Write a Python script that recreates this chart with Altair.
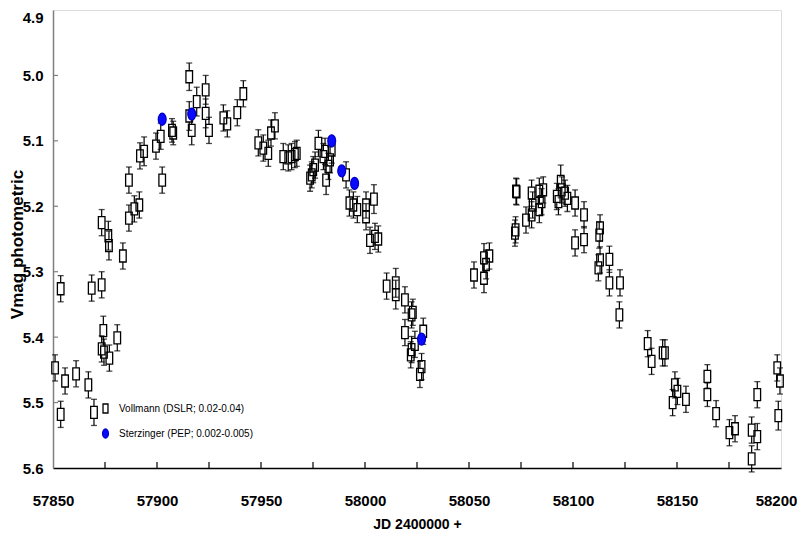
import altair as alt
import pandas as pd

# ---- data ----
vol_jd = [57851.0, 57853.7, 57853.7, 57855.8, 57861.1, 57867.0, 57868.6, 57869.7,
          57873.4, 57873.4, 57873.4, 57874.2, 57874.5, 57876.6, 57876.9, 57877.1,
          57880.9, 57883.6, 57886.5, 57886.5, 57889.1, 57891.5, 57891.8, 57893.8,
          57899.5, 57901.8, 57902.5, 57907.2, 57907.8, 57915.5, 57915.5, 57916.7,
          57919.1, 57923.4, 57923.4, 57925.0, 57931.9, 57933.8, 57938.6, 57941.5,
          57948.7, 57951.1, 57953.5, 57954.8, 57956.7, 57960.7, 57963.1, 57964.7,
          57966.3, 57967.2, 57973.6, 57974.4, 57975.1, 57976.0, 57977.6, 57980.0,
          57980.8, 57981.3, 57982.4, 57983.2, 57984.0, 57990.9, 57992.5, 57994.4,
          57996.3, 58000.5, 58000.5, 58004.3, 58002.4, 58004.8, 58006.4, 58010.4,
          58014.8, 58014.8, 58019.2, 58022.4, 58023.0, 58019.2, 58022.4, 58022.0,
          58024.0, 58028.0, 58027.2, 58026.4,
          58052.4, 58057.2, 58057.2, 58058.2, 58059.8, 58072.6, 58072.9, 58072.1,
          58072.4, 58077.4, 58080.1, 58080.1, 58080.6, 58083.8, 58084.9, 58083.8,
          58085.7, 58092.2, 58093.0, 58094.1, 58094.6, 58096.2, 58097.3, 58101.0,
          58101.0, 58105.3, 58105.3, 58112.6, 58113.0, 58112.2, 58113.0, 58117.5,
          58117.5, 58122.6, 58122.3, 58135.9, 58137.8, 58143.1, 58144.2, 58149.0,
          58150.2, 58147.9, 58154.3, 58164.6, 58164.6, 58168.8, 58175.2, 58177.9,
          58185.9, 58188.6, 58185.9, 58188.6, 58198.2, 58199.5, 58198.7]
vol_mag = [5.447, 5.326, 5.518, 5.467, 5.456, 5.473, 5.325, 5.515,
           5.320, 5.418, 5.225, 5.390, 5.423, 5.245, 5.260, 5.432,
           5.401, 5.276, 5.160, 5.218, 5.204, 5.198, 5.123, 5.116,
           5.108, 5.093, 5.160, 5.084, 5.088, 5.002, 5.062, 5.084,
           5.040, 5.022, 5.058, 5.084, 5.065, 5.074, 5.057, 5.028,
           5.103, 5.111, 5.119, 5.088, 5.077, 5.124, 5.126, 5.124,
           5.121, 5.119, 5.157, 5.152, 5.144, 5.137, 5.104, 5.124,
           5.116, 5.160, 5.139, 5.129, 5.114, 5.152, 5.195, 5.198,
           5.205, 5.198, 5.216, 5.189, 5.252, 5.246, 5.250, 5.322,
           5.317, 5.335, 5.343, 5.366, 5.362, 5.393, 5.419, 5.427,
           5.411, 5.391, 5.445, 5.457,
           5.305, 5.310, 5.279, 5.289, 5.276, 5.177, 5.178, 5.241,
           5.236, 5.221, 5.180, 5.213, 5.198, 5.177, 5.193, 5.205,
           5.175, 5.185, 5.193, 5.162, 5.175, 5.180, 5.188, 5.195,
           5.256, 5.213, 5.251, 5.244, 5.233, 5.294, 5.282, 5.281,
           5.317, 5.317, 5.366, 5.410, 5.437, 5.424, 5.424, 5.473,
           5.483, 5.500, 5.495, 5.460, 5.488, 5.517, 5.546, 5.540,
           5.542, 5.552, 5.586, 5.488, 5.447, 5.467, 5.520]
vol_err = [0.020, 0.020, 0.020, 0.020, 0.020, 0.020, 0.020, 0.020,
           0.020, 0.020, 0.020, 0.022, 0.020, 0.022, 0.022, 0.020,
           0.020, 0.020, 0.020, 0.020, 0.020, 0.020, 0.020, 0.022,
           0.020, 0.020, 0.020, 0.018, 0.018, 0.021, 0.022, 0.022,
           0.022, 0.022, 0.022, 0.020, 0.020, 0.020, 0.020, 0.020,
           0.020, 0.020, 0.020, 0.020, 0.020, 0.020, 0.020, 0.020,
           0.020, 0.020, 0.020, 0.020, 0.020, 0.020, 0.020, 0.020,
           0.020, 0.022, 0.020, 0.020, 0.020, 0.020, 0.020, 0.020,
           0.020, 0.020, 0.020, 0.022, 0.020, 0.020, 0.020, 0.020,
           0.022, 0.022, 0.020, 0.020, 0.020, 0.020, 0.020, 0.020,
           0.020, 0.020, 0.020, 0.020,
           0.020, 0.022, 0.022, 0.022, 0.020, 0.020, 0.020, 0.020,
           0.020, 0.020, 0.020, 0.020, 0.020, 0.020, 0.020, 0.020,
           0.020, 0.020, 0.020, 0.025, 0.020, 0.020, 0.020, 0.020,
           0.020, 0.020, 0.020, 0.020, 0.020, 0.020, 0.020, 0.020,
           0.020, 0.020, 0.020, 0.020, 0.020, 0.020, 0.020, 0.020,
           0.020, 0.020, 0.020, 0.018, 0.018, 0.020, 0.020, 0.020,
           0.020, 0.020, 0.020, 0.020, 0.020, 0.020, 0.022]

pep_jd = [57902.5, 57916.7, 57984.0, 57988.8, 57995.0, 58027.2]
pep_mag = [5.067, 5.059, 5.100, 5.146, 5.165, 5.403]

series = ["Vollmann (DSLR; 0.02-0.04)", "Sterzinger (PEP; 0.002-0.005)"]
x_ticks = [57875, 57900, 57925, 57950, 57975, 58000, 58025, 58050, 58075,
           58100, 58125, 58150, 58175]
y_ticks = [5.0, 5.1, 5.2, 5.3, 5.4, 5.5]
x_labels = [57850, 57900, 57950, 58000, 58050, 58100, 58150, 58200]
y_labels = [4.9, 5.0, 5.1, 5.2, 5.3, 5.4, 5.5, 5.6]

vol = pd.DataFrame({"jd": vol_jd, "mag": vol_mag, "err": vol_err, "src": series[0]})
vol["lo"] = vol["mag"] - vol["err"]
vol["hi"] = vol["mag"] + vol["err"]
pep = pd.DataFrame({"jd": pep_jd, "mag": pep_mag, "err": 0.0, "src": series[1]})
pts = pd.concat([vol, pep], ignore_index=True)

SANS = "Liberation Sans, Arial"

xs = alt.Scale(domain=[57850, 58200], nice=False, zero=False)
ys = alt.Scale(domain=[4.9, 5.6], reverse=True, nice=False, zero=False)

xax = alt.Axis(values=x_labels, format="d", title="JD 2400000 +", tickSize=0, labelPadding=25,
               labelOffset={"condition": {"test": "datum.value === 58200", "value": -5},
                            "value": 0},
               labelFont=SANS, labelFontSize=15, labelFontWeight="bold", labelColor="black",
               titleFont=SANS, titleFontSize=14, titleFontWeight="bold", titleColor="black",
               titlePadding=9, grid=False, domainColor="black", domainWidth=1.5,
               labelFlush=False)
yax = alt.Axis(values=y_labels, format=".1f", title="Vmag photometric",
               tickSize=0, labelPadding=10,
               labelBaseline={"condition": {"test": "datum.value === 4.9", "value": "top"},
                              "value": "middle"},
               labelFont=SANS, labelFontSize=15, labelFontWeight="bold", labelColor="black",
               titleFont=SANS, titleFontSize=17, titleFontWeight="bold", titleColor="black",
               titleX=-36, titleY=234, titleAngle=-90, titleBaseline="middle",
               grid=False, domainColor="#7f7f7f", domainWidth=1.5, labelFlush=False)

base = alt.Chart(vol)

bar_top = base.mark_rule(color="black", strokeWidth=1.2, y2Offset=-6).encode(
    x=alt.X("jd:Q", scale=xs, axis=xax), y=alt.Y("lo:Q", scale=ys, axis=yax), y2="mag:Q")
bar_bot = base.mark_rule(color="black", strokeWidth=1.2, yOffset=6).encode(
    x="jd:Q", y="mag:Q", y2="hi:Q")
cap_lo = base.mark_tick(color="black", orient="horizontal", size=6, thickness=1.3).encode(
    x="jd:Q", y="lo:Q")
cap_hi = base.mark_tick(color="black", orient="horizontal", size=6, thickness=1.3).encode(
    x="jd:Q", y="hi:Q")

rect_path = "M-0.55,-1L0.55,-1L0.55,1L-0.55,1Z"
ell_path = "M0,-1A0.65,1,0,1,1,0,1A0.65,1,0,1,1,0,-1Z"

leg = alt.Legend(title=None, orient="none", legendX=47, legendY=393,
                 labelFont=SANS, labelFontSize=10, labelColor="black",
                 symbolSize=81, symbolStrokeWidth=1.3, rowPadding=10, labelOffset=8,
                 padding=0)

points = alt.Chart(pts).mark_point(filled=False, size=144, strokeWidth=1.3, opacity=1).encode(
    x="jd:Q", y="mag:Q",
    shape=alt.Shape("src:N", scale=alt.Scale(domain=series, range=[rect_path, ell_path]), legend=leg),
    fill=alt.Fill("src:N", scale=alt.Scale(domain=series, range=["transparent", "#0a0aff"]), legend=leg),
    stroke=alt.Stroke("src:N", scale=alt.Scale(domain=series, range=["black", "#0000c8"]), legend=leg),
    order=alt.Order("src:N", sort="descending"),
)

xt = alt.Chart(pd.DataFrame({"t": x_ticks})).mark_rule(color="black", strokeWidth=1.2).encode(
    x="t:Q", y=alt.value(458), y2=alt.value(452))
yt = alt.Chart(pd.DataFrame({"t": y_ticks})).mark_rule(color="#7f7f7f", strokeWidth=1.2).encode(
    y="t:Q", x=alt.value(0), x2=alt.value(5))

chart = alt.layer(bar_top, bar_bot, cap_lo, cap_hi, points, xt, yt).properties(
    width=728, height=458,
    autosize=alt.AutoSizeParams(type="none"),
    padding={"left": 45, "top": 2, "right": 16, "bottom": 63},
).configure_view(stroke="#7f7f7f", strokeWidth=1.5).configure(background="white")

chart.save("out.html", embed_options={"renderer": "svg", "actions": False})
